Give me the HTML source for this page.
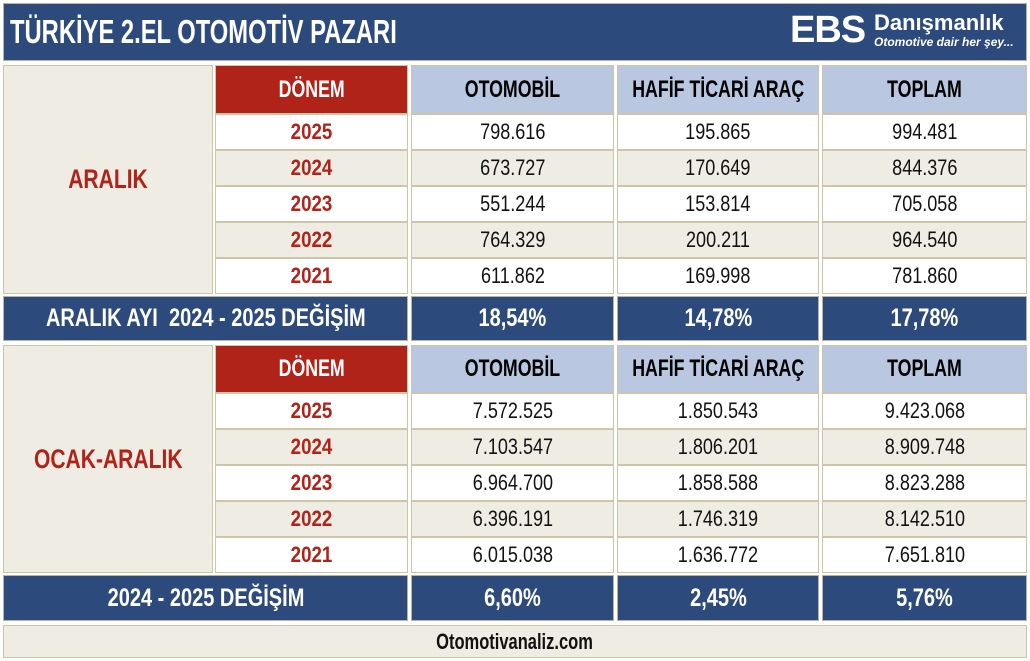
<!DOCTYPE html>
<html><head><meta charset="utf-8"><style>
body{margin:0;width:1030px;height:661px;background:#fff;position:relative;overflow:hidden;font-family:"Liberation Sans",sans-serif}
.c{position:absolute;box-sizing:border-box;border:1px solid #cdc5a5;display:flex;align-items:center;justify-content:center;font-size:22px;color:#111;white-space:nowrap}
.c i{font-style:normal;display:inline-block;transform:scaleX(.82)}
.bl{background:#2c4a7c;color:#fff;font-weight:bold;font-size:25px;border-color:#bdb592}
.bl i{transform:scaleX(.8)}
.rd{background:#b02318;color:#fff;font-weight:bold;font-size:24px}
.hd{background:#b9c8e0;color:#000;font-weight:bold;font-size:24px}
.rd i,.hd i{transform:scaleX(.74)}
.bg{background:#efece4}
.yr{color:#b02318;font-weight:bold;font-size:22px}
.yr i{transform:scaleX(.85)}
.big{font-size:27px}
.big i{transform:scaleX(.78)}
</style></head><body>
<div class="c bl" style="left:3px;top:3px;width:1024px;height:58px;justify-content:flex-start;padding-left:6px;font-size:33px"><i style="transform-origin:left;transform:scaleX(.72)">TÜRKİYE 2.EL OTOMOTİV PAZARI</i></div>
<div style="position:absolute;left:790px;top:10px;color:#fff;font-family:'Liberation Sans',sans-serif;font-weight:900;font-size:38px;letter-spacing:-1px;line-height:40px">EBS</div>
<div style="position:absolute;left:874px;top:11px;color:#fff;font-family:'Liberation Sans',sans-serif;font-weight:bold;font-size:22px;line-height:24px">Danışmanlık</div>
<div style="position:absolute;left:874px;top:35px;color:#fff;font-family:'Liberation Sans',sans-serif;font-weight:bold;font-style:italic;font-size:12px">Otomotive dair her şey...</div>

<div class="c bg yr big" style="left:3px;top:65px;width:210px;height:229px"><i>ARALIK</i></div>
<div class="c rd" style="left:215px;top:65px;width:193px;height:49px"><i>DÖNEM</i></div>
<div class="c hd" style="left:411px;top:65px;width:203px;height:49px"><i>OTOMOBİL</i></div>
<div class="c hd" style="left:617px;top:65px;width:202px;height:49px"><i>HAFİF TİCARİ ARAÇ</i></div>
<div class="c hd" style="left:822px;top:65px;width:205px;height:49px"><i>TOPLAM</i></div>

<div class="c yr" style="left:215px;top:114px;width:193px;height:36px"><i>2025</i></div>
<div class="c" style="left:411px;top:114px;width:203px;height:36px"><i>798.616</i></div>
<div class="c" style="left:617px;top:114px;width:202px;height:36px"><i>195.865</i></div>
<div class="c" style="left:822px;top:114px;width:205px;height:36px"><i>994.481</i></div>

<div class="c yr bg" style="left:215px;top:150px;width:193px;height:36px"><i>2024</i></div>
<div class="c bg" style="left:411px;top:150px;width:203px;height:36px"><i>673.727</i></div>
<div class="c bg" style="left:617px;top:150px;width:202px;height:36px"><i>170.649</i></div>
<div class="c bg" style="left:822px;top:150px;width:205px;height:36px"><i>844.376</i></div>

<div class="c yr" style="left:215px;top:186px;width:193px;height:36px"><i>2023</i></div>
<div class="c" style="left:411px;top:186px;width:203px;height:36px"><i>551.244</i></div>
<div class="c" style="left:617px;top:186px;width:202px;height:36px"><i>153.814</i></div>
<div class="c" style="left:822px;top:186px;width:205px;height:36px"><i>705.058</i></div>

<div class="c yr bg" style="left:215px;top:222px;width:193px;height:36px"><i>2022</i></div>
<div class="c bg" style="left:411px;top:222px;width:203px;height:36px"><i>764.329</i></div>
<div class="c bg" style="left:617px;top:222px;width:202px;height:36px"><i>200.211</i></div>
<div class="c bg" style="left:822px;top:222px;width:205px;height:36px"><i>964.540</i></div>

<div class="c yr" style="left:215px;top:258px;width:193px;height:36px"><i>2021</i></div>
<div class="c" style="left:411px;top:258px;width:203px;height:36px"><i>611.862</i></div>
<div class="c" style="left:617px;top:258px;width:202px;height:36px"><i>169.998</i></div>
<div class="c" style="left:822px;top:258px;width:205px;height:36px"><i>781.860</i></div>

<div class="c bl" style="left:3px;top:296px;width:405px;height:45px"><i>ARALIK AYI&nbsp; 2024 - 2025 DEĞİŞİM</i></div>
<div class="c bl" style="left:411px;top:296px;width:203px;height:45px"><i>18,54%</i></div>
<div class="c bl" style="left:617px;top:296px;width:202px;height:45px"><i>14,78%</i></div>
<div class="c bl" style="left:822px;top:296px;width:205px;height:45px"><i>17,78%</i></div>

<div class="c bg yr big" style="left:3px;top:345px;width:210px;height:228px"><i>OCAK-ARALIK</i></div>
<div class="c rd" style="left:215px;top:345px;width:193px;height:48px"><i>DÖNEM</i></div>
<div class="c hd" style="left:411px;top:345px;width:203px;height:48px"><i>OTOMOBİL</i></div>
<div class="c hd" style="left:617px;top:345px;width:202px;height:48px"><i>HAFİF TİCARİ ARAÇ</i></div>
<div class="c hd" style="left:822px;top:345px;width:205px;height:48px"><i>TOPLAM</i></div>

<div class="c yr" style="left:215px;top:393px;width:193px;height:36px"><i>2025</i></div>
<div class="c" style="left:411px;top:393px;width:203px;height:36px"><i>7.572.525</i></div>
<div class="c" style="left:617px;top:393px;width:202px;height:36px"><i>1.850.543</i></div>
<div class="c" style="left:822px;top:393px;width:205px;height:36px"><i>9.423.068</i></div>

<div class="c yr bg" style="left:215px;top:429px;width:193px;height:36px"><i>2024</i></div>
<div class="c bg" style="left:411px;top:429px;width:203px;height:36px"><i>7.103.547</i></div>
<div class="c bg" style="left:617px;top:429px;width:202px;height:36px"><i>1.806.201</i></div>
<div class="c bg" style="left:822px;top:429px;width:205px;height:36px"><i>8.909.748</i></div>

<div class="c yr" style="left:215px;top:465px;width:193px;height:36px"><i>2023</i></div>
<div class="c" style="left:411px;top:465px;width:203px;height:36px"><i>6.964.700</i></div>
<div class="c" style="left:617px;top:465px;width:202px;height:36px"><i>1.858.588</i></div>
<div class="c" style="left:822px;top:465px;width:205px;height:36px"><i>8.823.288</i></div>

<div class="c yr bg" style="left:215px;top:501px;width:193px;height:36px"><i>2022</i></div>
<div class="c bg" style="left:411px;top:501px;width:203px;height:36px"><i>6.396.191</i></div>
<div class="c bg" style="left:617px;top:501px;width:202px;height:36px"><i>1.746.319</i></div>
<div class="c bg" style="left:822px;top:501px;width:205px;height:36px"><i>8.142.510</i></div>

<div class="c yr" style="left:215px;top:537px;width:193px;height:36px"><i>2021</i></div>
<div class="c" style="left:411px;top:537px;width:203px;height:36px"><i>6.015.038</i></div>
<div class="c" style="left:617px;top:537px;width:202px;height:36px"><i>1.636.772</i></div>
<div class="c" style="left:822px;top:537px;width:205px;height:36px"><i>7.651.810</i></div>

<div class="c bl" style="left:3px;top:575px;width:405px;height:46px"><i>2024 - 2025 DEĞİŞİM</i></div>
<div class="c bl" style="left:411px;top:575px;width:203px;height:46px"><i>6,60%</i></div>
<div class="c bl" style="left:617px;top:575px;width:202px;height:46px"><i>2,45%</i></div>
<div class="c bl" style="left:822px;top:575px;width:205px;height:46px"><i>5,76%</i></div>

<div class="c bg" style="left:3px;top:625px;width:1024px;height:33px;font-size:22px;font-weight:bold"><i style="transform:scaleX(.75)">Otomotivanaliz.com</i></div>
</body></html>
